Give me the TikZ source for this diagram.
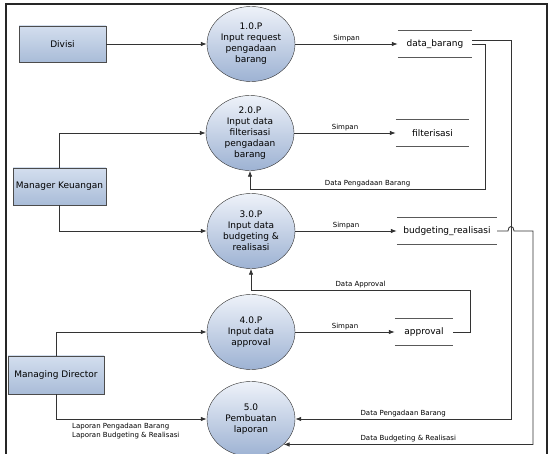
\documentclass[tikz,border=0pt]{standalone}
\usepackage{fontspec}
\setmainfont{DejaVu Sans}
\usepackage{tikz}
\usetikzlibrary{shapes.geometric,arrows.meta}

\definecolor{entTop}{HTML}{D3DEEE}
\definecolor{entBot}{HTML}{A9BCD8}
\definecolor{procTop}{HTML}{EEF2F9}
\definecolor{procBot}{HTML}{9DB2D3}
\definecolor{lineGray}{HTML}{333333}

\begin{document}
\begin{tikzpicture}[x=1pt, y=-1pt, >={Latex[length=6pt,width=4.5pt]},
  entity/.style={rectangle, draw=black!70, top color=entTop, bottom color=entBot, font=\fontsize{9}{11}\selectfont, minimum height=36pt, inner sep=0pt},
  process/.style={ellipse, draw=black!80, top color=procTop, bottom color=procBot, minimum width=88pt, minimum height=75pt, inner sep=0pt, align=center, font=\fontsize{9}{11}\selectfont},
  store/.style={minimum height=26pt, inner sep=0pt, font=\fontsize{9}{11}\selectfont},
  lbl/.style={font=\fontsize{7}{8.5}\selectfont, inner sep=2pt},
  flow/.style={->, draw=lineGray, line width=0.8pt}]

\useasboundingbox (0,0) rectangle (552,454);

% outer frame
\draw[line width=2.2pt, black!85] (6,470) -- (6,4) -- (547,4) -- (547,470);

% External entities
\node[entity, minimum width=87pt] (divisi) at (62.5,44) {Divisi};
\node[entity, minimum width=93pt, minimum height=37pt] (mk) at (59.5,186.5) {Manager Keuangan};
\node[entity, minimum width=96pt, minimum height=38pt] (md) at (56,375) {Managing Director};

% Processes
\node[process] (p1) at (251,44) {1.0.P\\Input request\\pengadaan\\barang};
\node[process] (p2) at (250,133) {2.0.P\\Input data\\filterisasi\\pengadaan\\barang};
\node[process] (p3) at (251,231) {3.0.P\\Input data\\budgeting \&\\realisasi};
\node[process] (p4) at (251,332) {4.0.P\\Input data\\approval};
\node[process] (p5) at (251,419) {5.0\\Pembuatan\\laporan};

% Data stores
\node[store, minimum width=74pt] (sbrg) at (435,44) {data\_barang};
\node[store, minimum width=73pt] (sfil) at (432.5,133) {filterisasi};
\node[store, minimum width=100pt] (sbud) at (447,231) {budgeting\_realisasi};
\node[store, minimum width=58pt] (sapp) at (424,332) {approval};

\foreach \s in {sbrg,sfil,sbud,sapp}
    \draw[black!65, line width=0.8pt] (\s.north west) -- (\s.north east) (\s.south west) -- (\s.south east);

% Entities to processes
\draw[flow] (divisi) -- (p1);
\draw[flow] (mk.north) |- (p2);
\draw[flow] (mk.south) |- (p3);
\draw[flow] (md.north) |- (p4);
\draw[flow] (md.south) |- (p5);
\node[lbl, anchor=north west, align=left] (lap) at (70,421) {Laporan Pengadaan Barang\\Laporan Budgeting \& Realisasi};

% Simpan
\draw[flow] (p1) -- node[lbl, above] {Simpan} (sbrg);
\draw[flow] (p2) -- node[lbl, above] {Simpan} (sfil);
\draw[flow] (p3) -- node[lbl, above] {Simpan} (sbud);
\draw[flow] (p4) -- node[lbl, above] {Simpan} (sapp);

% Data flows back
\draw[flow] (sbrg.east) -- ++(13,0) -- ++(0,145) -| node[lbl, pos=.25, above] {Data Pengadaan Barang} (p2);
\draw[flow] ([yshift=4pt]sbrg.east) -- ++(39,0) |- node[lbl, pos=.75, above] {Data Pengadaan Barang} (p5);
\draw[flow] (sapp.east) -- ++(17,0) -- ++(0,-42) -| node[lbl, pos=.25, above] {Data Approval} (p3);
\draw[flow] (sbud.east) -- (508,231) .. controls (508,225) and (514,225) .. (514,231) -- (533,231) |- node[lbl, pos=.75, above] {Data Budgeting \& Realisasi} (p5.-38);

\end{tikzpicture}
\end{document}
